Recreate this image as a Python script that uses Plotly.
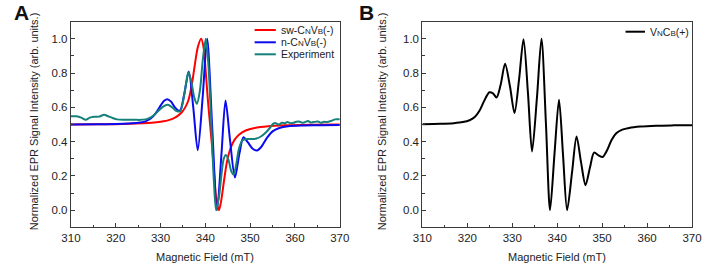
import plotly.graph_objects as go

# ---------------- data ----------------
sw_x = [310, 316, 320, 323, 326, 328, 330, 332, 333.5, 334.7, 335.5, 336.2, 336.9, 337.6,
        338.3, 339.07, 339.6, 340.1, 340.6, 341.05, 341.5, 342.0, 342.5, 343.03, 343.5,
        344.1, 344.8, 345.6, 346.5, 347.5, 349, 351, 354, 358, 364, 370]
sw_y = [0.5, 0.501, 0.502, 0.504, 0.507, 0.51, 0.516, 0.527, 0.545, 0.57, 0.6, 0.64, 0.72,
        0.84, 0.95, 1.0, 0.95, 0.8, 0.63, 0.5, 0.37, 0.2, 0.05, 0.0, 0.05,
        0.16, 0.28, 0.36, 0.41, 0.44, 0.465, 0.48, 0.49, 0.495, 0.498, 0.5]

n_x = [310, 316, 320, 323, 325, 326.5, 327.8, 328.9, 330.0, 330.8, 331.5, 332.3, 333.2,
       334.3, 335.3, 336.3, 337.3, 338.3, 339.4, 340.4, 341.5, 342.6, 343.6, 344.5,
       345.5, 346.6, 347.6, 348.5, 349.5, 350.5, 351.5, 352.5, 353.7, 355, 356.5,
       358.5, 362, 366, 370]
n_y = [0.5, 0.501, 0.503, 0.506, 0.51, 0.517, 0.535, 0.565, 0.61, 0.638, 0.648, 0.635, 0.6,
       0.58, 0.68, 0.81, 0.6, 0.35, 0.66, 1.0, 0.5, 0.0, 0.33, 0.64,
       0.41, 0.19, 0.33, 0.426, 0.395, 0.36, 0.348, 0.37, 0.42, 0.46, 0.48,
       0.49, 0.494, 0.496, 0.497]

exp_x = [310, 311.3, 312.3, 313.3, 314.2, 315.2, 316.3, 317.4, 318.3, 319.3, 320.3, 322,
         324, 325.5, 326.7, 327.7, 328.7, 329.6, 330.5, 331.6, 332.6, 333.6, 334.4,
         335.2, 335.7, 336.2, 336.8, 337.5, 338.1, 338.8, 339.4, 340.1, 340.7, 341.3,
         341.9, 342.4, 343.0, 343.6, 344.1, 344.6, 345.2, 345.8, 346.3, 346.9, 347.5,
         348.3, 349.2, 350.3, 351.4, 352.4, 353.5, 354.4, 355.1, 355.7, 356.4, 357.1,
         357.8, 358.3, 359.0, 359.7, 360.3, 360.9, 361.8, 362.9, 363.5, 364.1, 365.1,
         365.8, 366.5, 367.2, 368.0, 369.0, 370]
exp_y = [0.548, 0.548, 0.54, 0.527, 0.54, 0.545, 0.546, 0.557, 0.548, 0.538, 0.53, 0.528,
         0.528, 0.527, 0.53, 0.54, 0.558, 0.582, 0.603, 0.615, 0.6, 0.578, 0.578,
         0.66, 0.74, 0.805, 0.76, 0.66, 0.62, 0.7, 0.87, 1.0, 0.84, 0.52,
         0.17, 0.0, 0.07, 0.21, 0.3, 0.322, 0.29, 0.225, 0.208, 0.27, 0.36,
         0.408, 0.415, 0.415, 0.418, 0.43, 0.453, 0.48, 0.504, 0.508, 0.5, 0.51,
         0.508, 0.514, 0.508, 0.51, 0.516, 0.518, 0.51, 0.52, 0.512, 0.514, 0.518,
         0.51, 0.516, 0.514, 0.52, 0.53, 0.53]

vc_x = [310, 314, 317, 319, 320.5, 321.7, 322.7, 323.7, 324.9, 325.7, 326.5, 327.4, 328.4,
        329.5, 330.5, 331.5, 332.5, 333.5, 334.4, 335.5, 336.5, 337.5, 338.4, 339.4,
        340.4, 341.3, 342.2, 343.3, 344.3, 345.3, 346.3, 347.3, 348.2, 349.2, 350.1,
        351.1, 352.1, 353.2, 354.5, 356, 358.5, 362, 366, 370]
vc_y = [0.502, 0.504, 0.508, 0.514, 0.525, 0.545, 0.58, 0.635, 0.688, 0.682, 0.658, 0.73,
        0.854, 0.72, 0.567, 0.76, 0.997, 0.68, 0.342, 0.66, 1.0, 0.5, 0.0, 0.33,
        0.645, 0.32, 0.0, 0.22, 0.43, 0.28, 0.146, 0.25, 0.336, 0.32, 0.31,
        0.35, 0.41, 0.45, 0.47, 0.48, 0.488, 0.493, 0.495, 0.496]

y_ticks = [0.0, 0.2, 0.4, 0.6, 0.8, 1.0]
y_ticktext = ["0.0", "0.2", "0.4", "0.6", "0.8", "1.0"]
x_ticks = [310, 320, 330, 340, 350, 360, 370]

labels_a = ['sw-C<span style="font-size:8px">N</span>V<span style="font-size:8px">B</span>(-)',
            'n-C<span style="font-size:8px">N</span>V<span style="font-size:8px">B</span>(-)',
            'Experiment']
label_b = 'V<span style="font-size:8px">N</span>C<span style="font-size:8px">B</span>(+)'

colors_a = ["#ff0000", "#0a0af0", "#16807a"]

# ---------------- figure ----------------
W, H = 713, 265
FONT = "Liberation Sans, Arial, sans-serif"

fig = go.Figure()
for xs, ys, c, name in [(sw_x, sw_y, colors_a[0], labels_a[0]),
                        (n_x, n_y, colors_a[1], labels_a[1]),
                        (exp_x, exp_y, colors_a[2], labels_a[2])]:
    fig.add_trace(go.Scatter(x=xs, y=ys, mode="lines", name=name,
                             line=dict(color=c, width=2, shape="spline", smoothing=0.8),
                             xaxis="x", yaxis="y", showlegend=False))
fig.add_trace(go.Scatter(x=vc_x, y=vc_y, mode="lines", name=label_b,
                         line=dict(color="#000000", width=2, shape="spline", smoothing=0.8),
                         xaxis="x2", yaxis="y2", showlegend=False))

def px_x(p):
    return p / W

def px_y(p):
    return 1 - p / H

domA = [px_x(62.7), px_x(339.3)]
domB = [px_x(424.3), px_x(701.7)]
domY = [px_y(227.3), px_y(21.7)]

axis_common = dict(
    showline=True, linecolor="#3a3a3a", linewidth=1.2, mirror=True,
    ticks="inside", ticklen=4, tickwidth=1, tickcolor="#3a3a3a",
    showgrid=False, zeroline=False,
    tickfont=dict(family=FONT, size=11.5, color="#222"),
)
xax = dict(axis_common, range=[310, 370], tickvals=x_ticks,
           minor=dict(ticks="inside", ticklen=2.5, dtick=5, tick0=310, tickcolor="#3a3a3a", showgrid=False))
yax = dict(axis_common, range=[-0.1, 1.1], tickvals=y_ticks, ticktext=y_ticktext,
           minor=dict(ticks="inside", ticklen=2.5, dtick=0.1, tick0=0, tickcolor="#3a3a3a", showgrid=False))

fig.update_layout(
    width=W, height=H, margin=dict(l=0, r=0, t=0, b=0),
    paper_bgcolor="white", plot_bgcolor="white",
    font=dict(family=FONT, color="#222"),
    xaxis=dict(xax, domain=domA, anchor="y"),
    yaxis=dict(yax, domain=domY, anchor="x"),
    xaxis2=dict(xax, domain=domB, anchor="y2"),
    yaxis2=dict(yax, domain=domY, anchor="x2"),
)

ann = []
# axis titles
for cx in [(domA[0] + domA[1]) / 2, (domB[0] + domB[1]) / 2]:
    ann.append(dict(text="Magnetic Field (mT)", x=cx, y=px_y(256.5), xref="paper", yref="paper",
                    xanchor="center", yanchor="middle", showarrow=False,
                    font=dict(family=FONT, size=11, color="#222")))
for xx in [px_x(25), px_x(383)]:
    ann.append(dict(text="Normalized EPR Signal Intensity (arb. units.)", x=xx, y=px_y(121),
                    xref="paper", yref="paper", textangle=-90,
                    xanchor="center", yanchor="middle", showarrow=False,
                    font=dict(family=FONT, size=11, color="#222")))
# panel letters
for letter, xx in [("A", px_x(12)), ("B", px_x(367))]:
    ann.append(dict(text="<b>%s</b>" % letter, x=xx, y=px_y(12.5), xref="paper", yref="paper",
                    xanchor="center", yanchor="middle", showarrow=False,
                    font=dict(family=FONT, size=21, color="#111")))

shapes = []
# legend A
for i, (lab, c) in enumerate(zip(labels_a, colors_a)):
    yy = px_y([30, 42.3, 54.3][i])
    shapes.append(dict(type="line", xref="paper", yref="paper",
                       x0=px_x(251.7), x1=px_x(273.5), y0=yy, y1=yy,
                       line=dict(color=c, width=2)))
    ann.append(dict(text=lab, x=px_x(276.5), y=yy, xref="paper", yref="paper",
                    xanchor="left", yanchor="middle", showarrow=False,
                    font=dict(family=FONT, size=10.5, color="#222")))
# legend B
yyb = px_y(31.7)
shapes.append(dict(type="line", xref="paper", yref="paper",
                   x0=px_x(633.3), x1=px_x(653.3), y0=yyb, y1=yyb,
                   line=dict(color="#000", width=2)))
ann.append(dict(text=label_b, x=px_x(656.5), y=yyb, xref="paper", yref="paper",
                xanchor="left", yanchor="middle", showarrow=False,
                font=dict(family=FONT, size=10.5, color="#222")))

fig.update_layout(annotations=ann, shapes=shapes)
fig.write_html("out.html",
               config={"displayModeBar": False},
               post_script="document.body.style.margin='0px';document.body.style.padding='0px';document.body.style.overflow='hidden';")
